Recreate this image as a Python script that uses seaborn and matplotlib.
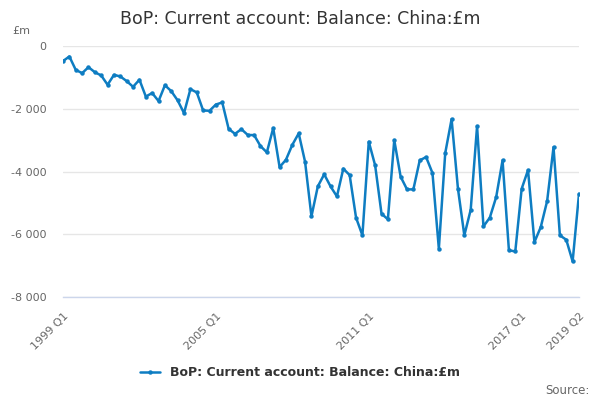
import numpy as np
import pandas as pd
import seaborn as sns
import matplotlib.pyplot as plt
from matplotlib.ticker import FixedLocator, FuncFormatter

# quarterly values, 1999 Q1 .. 2019 Q2 (£m)
balance = [
    -480, -335, -760, -865, -675, -835, -940, -1235,
    -920, -970, -1120, -1300, -1075, -1610, -1500, -1755,
    -1250, -1440, -1735, -2140, -1375, -1480, -2055, -2065,
    -1865, -1800, -2640, -2800, -2650, -2835, -2840, -3190,
    -3390, -2615, -3860, -3625, -3150, -2785, -3690, -5430,
    -4475, -4090, -4475, -4795, -3910, -4115, -5470, -6035,
    -3050, -3805, -5345, -5525, -3000, -4165, -4570, -4570,
    -3645, -3540, -4050, -6460, -3415, -2330, -4550, -6035,
    -5220, -2555, -5750, -5470, -4815, -3645, -6515, -6545,
    -4550, -3955, -6250, -5770, -4940, -3225, -6035, -6175,
    -6865, -4710,
]
quarters = [f"{1999 + i // 4} Q{i % 4 + 1}" for i in range(len(balance))]
label_quarters = ["1999 Q1", "2005 Q1", "2011 Q1", "2017 Q1", "2019 Q2"]
y_ticks = [0, -2000, -4000, -6000, -8000]

series_name = "BoP: Current account: Balance: China:£m"
blue = "#0e7dc2"

df = pd.DataFrame({"pos": np.arange(len(balance)), "quarter": quarters, "value": balance})

sns.set_style("white")
plt.rcParams["font.family"] = ["DejaVu Sans"]

fig = plt.figure(figsize=(6, 4), dpi=100)
ax = fig.add_axes([0.105, 0.2575, 0.86, 0.6275])

sns.lineplot(data=df, x="pos", y="value", ax=ax, color=blue, linewidth=1.8,
             marker="o", markersize=3.2, markeredgewidth=0, legend=False)

ax.set_xlim(0, len(balance) - 1)
ax.set_ylim(-8000, 0)

# tick marks every 6 quarters, labels on selected quarters
tick_pos = list(range(0, 73, 6)) + [len(balance) - 1]
ax.xaxis.set_major_locator(FixedLocator(tick_pos))
ax.set_xticklabels([quarters[p] if quarters[p] in label_quarters else "" for p in tick_pos],
                   rotation=45, ha="right", rotation_mode="anchor",
                   fontsize=8, color="#666666")
ax.tick_params(axis="x", direction="out", length=7, width=1, color="#ccd6eb", pad=3)

ax.yaxis.set_major_locator(FixedLocator(y_ticks))
ax.yaxis.set_major_formatter(FuncFormatter(lambda v, p: f"{v:,.0f}".replace(",", " ")))
ax.tick_params(axis="y", length=0, pad=12, labelsize=8, labelcolor="#666666")
ax.grid(axis="y", color="#e6e6e6", linewidth=1)
ax.set_xlabel("")
ax.set_ylabel("")

for side in ["left", "right", "top"]:
    ax.spines[side].set_visible(False)
ax.spines["bottom"].set_color("#ccd6eb")
ax.spines["bottom"].set_linewidth(1)

fig.suptitle(series_name, x=0.5, y=0.975, fontsize=12.5, color="#333333")
fig.text(0.02, 0.915, "£m", fontsize=8, color="#666666")

handle = plt.Line2D([], [], color=blue, linewidth=1.8, marker="o", markersize=3.2,
                    markeredgewidth=0)
leg = fig.legend([handle], [series_name], loc="center", bbox_to_anchor=(0.5, 0.068),
                 frameon=False, handlelength=1.6, prop={"size": 9, "weight": "bold"})
for t in leg.get_texts():
    t.set_color("#333333")

fig.text(0.982, 0.025, "Source:", ha="right", va="center", fontsize=8.5, color="#666666")

fig.savefig("out.png", dpi=100)
